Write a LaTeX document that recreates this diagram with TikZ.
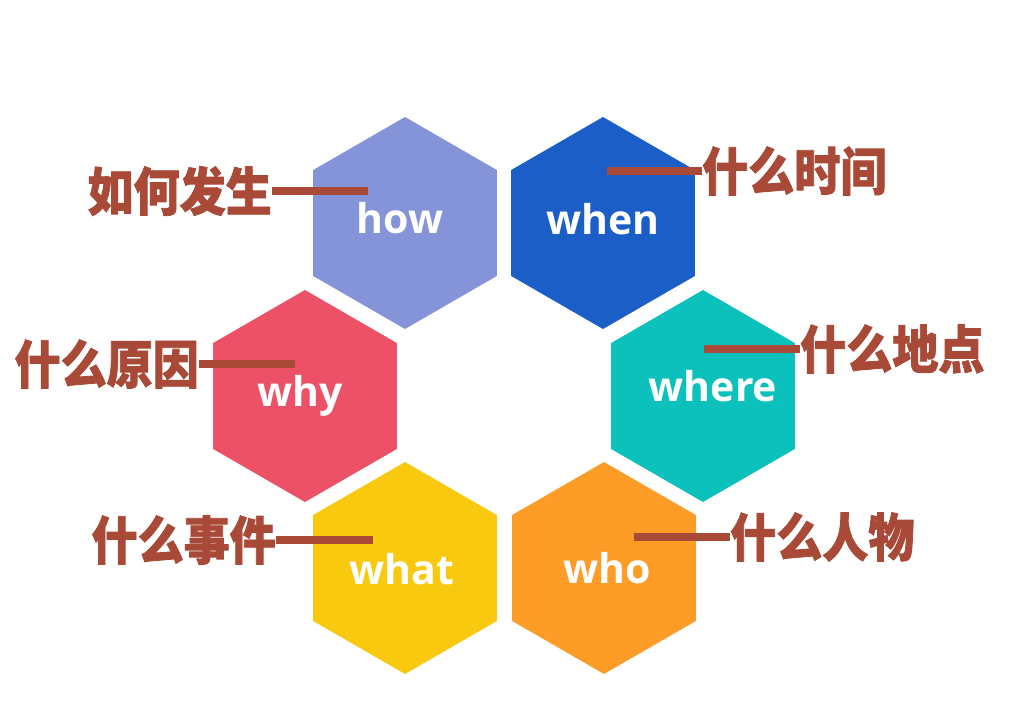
\documentclass[tikz,border=0pt]{standalone}
\usepackage{fontspec}
\setmainfont{Open Sans}
\newfontfamily\cjk{Noto Sans CJK SC}[BoldFeatures={FakeBold=1.6}]
\usetikzlibrary{shapes.geometric}
\definecolor{chow}{HTML}{8593D8}
\definecolor{cwhen}{HTML}{1C5EC8}
\definecolor{cwhy}{HTML}{EC5167}
\definecolor{cwhere}{HTML}{0CC0BB}
\definecolor{cwhat}{HTML}{F9C910}
\definecolor{cwho}{HTML}{FD9D28}
\definecolor{brick}{HTML}{A84A37}
\newcommand{\cntext}[1]{\scalebox{0.98}[1.1]{#1}}
\tikzset{
  hex/.style={regular polygon, regular polygon sides=6, shape border rotate=30,
    minimum size=212pt, inner sep=0pt, draw=none},
  en/.style={text=white, font=\fontsize{41}{41}\selectfont\bfseries, inner sep=0pt},
  cn/.style={text=brick, font=\fontsize{47}{47}\selectfont\cjk\bfseries, inner sep=0pt},
  lead/.style={draw=brick, line width=8pt}
}
\begin{document}
\begin{tikzpicture}[x=1pt,y=-1pt]
\useasboundingbox (0,0) rectangle (1029,710);
% hexagons
\node[hex, fill=chow]   (how)   at (405,223) {};
\node[hex, fill=cwhen]  (when)  at (603,223) {};
\node[hex, fill=cwhy]   (why)   at (305,396) {};
\node[hex, fill=cwhere] (where) at (703,396) {};
\node[hex, fill=cwhat]  (what)  at (405,568) {};
\node[hex, fill=cwho]   (who)   at (604,568) {};
% english labels
\node[en] (thow)   at (400,218) {how};
\node[en] (twhen)  at (603,219) {when};
\node[en] (twhy)   at (300,396) {why};
\node[en] (twhere) at (713,386) {where};
\node[en] (twhat)  at (402,569) {what};
\node[en] (twho)   at (607,568) {who};
% chinese labels
\node[cn, anchor=east] (lhow)   at (272,191) {\cntext{如何发生}};
\node[cn, anchor=west] (lwhen)  at (702,171) {\cntext{什么时间}};
\node[cn, anchor=east] (lwhy)   at (199,364) {\cntext{什么原因}};
\node[cn, anchor=west] (lwhere) at (800,349) {\cntext{什么地点}};
\node[cn, anchor=east] (lwhat)  at (276,540) {\cntext{什么事件}};
\node[cn, anchor=west] (lwho)   at (730,537) {\cntext{什么人物}};
% lead points
\coordinate (phow)   at (368,191);
\coordinate (pwhen)  at (607,171);
\coordinate (pwhy)   at (295,364);
\coordinate (pwhere) at (704,349);
\coordinate (pwhat)  at (373,540);
\coordinate (pwho)   at (634,537);
% leads
\draw[lead] (lhow.east) -- (phow);
\draw[lead] (lwhen.west) -- (pwhen);
\draw[lead] (lwhy.east) -- (pwhy);
\draw[lead] (lwhere.west) -- (pwhere);
\draw[lead] (lwhat.east) -- (pwhat);
\draw[lead] (lwho.west) -- (pwho);
\end{tikzpicture}
\end{document}
